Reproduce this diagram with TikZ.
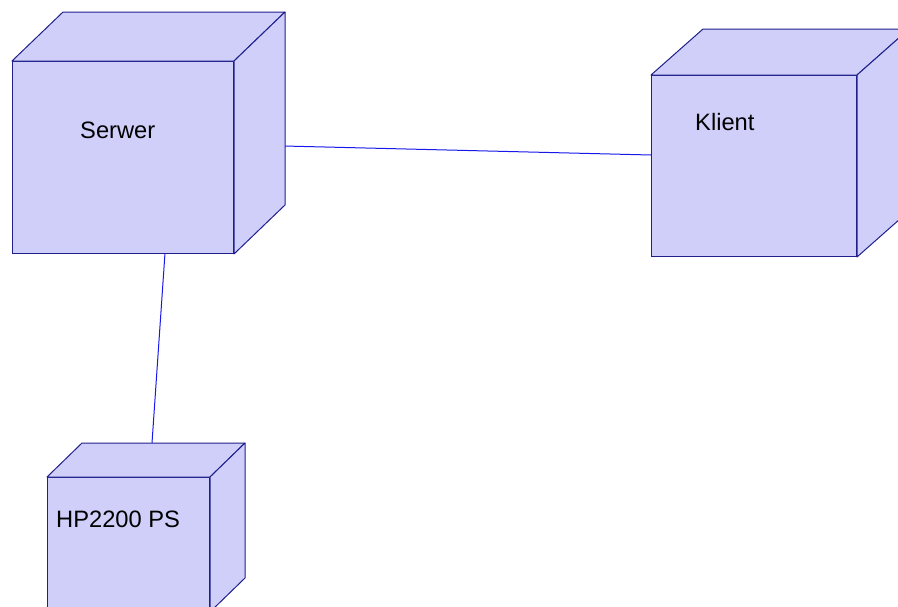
\documentclass[tikz,border=0pt]{standalone}
\usepackage{fontspec}
\setmainfont{Liberation Sans}
\usetikzlibrary{calc}
\definecolor{nodefill}{RGB}{207,207,250}
\definecolor{nodeline}{RGB}{32,32,140}
\definecolor{linkline}{RGB}{24,24,235}
\tikzset{
  front/.style={draw=nodeline, fill=nodefill, line width=1pt, rectangle, inner sep=0pt, anchor=north west},
  face/.style={draw=nodeline, fill=nodefill, line width=1pt, line join=round},
  devlabel/.style={anchor=base west, inner sep=0pt, font=\fontsize{23.7}{28}\selectfont},
  link/.style={draw=linkline, line width=1pt},
}
% 3D device box: name, x, y (front top-left), width, height, depth x, depth y
\newcommand\devicebox[7]{%
  \node[front, minimum width=#4pt, minimum height=#5pt] (#1) at (#2,#3) {};
  \draw[face] (#1.north west) -- ++(#6,-#7) -- ($(#1.north east)+(#6,-#7)$) -- (#1.north east) -- cycle;
  \draw[face] (#1.north east) -- ++(#6,-#7) -- ($(#1.south east)+(#6,-#7)$) -- (#1.south east) -- cycle;
}
\begin{document}
\begin{tikzpicture}[x=1pt, y=-1pt]
  \useasboundingbox (0,0) rectangle (898,606);
  \fill[white] (0,0) rectangle (898,606);
  \clip (0,0) rectangle (898,606);

  % connection end points on the device boxes
  \coordinate (serwer-e) at (284,146);
  \coordinate (klient-w) at (651,155);
  \coordinate (serwer-s) at (165,253);
  \coordinate (hp-n) at (152,443);

  \draw[link] (serwer-e) -- (klient-w);
  \draw[link] (serwer-s) -- (hp-n);

  \devicebox{serwer}{12}{61}{221}{192}{51}{49}
  \devicebox{klient}{651}{75}{205}{181}{52}{46}
  \devicebox{hp}{47}{477}{162}{134}{35}{34}

  \node[devlabel] (serwer-label) at (80,138) {Serwer};
  \node[devlabel] (klient-label) at (695,130) {Klient};
  \node[devlabel] (hp-label) at (56,527) {HP2200 PS};
\end{tikzpicture}
\end{document}
